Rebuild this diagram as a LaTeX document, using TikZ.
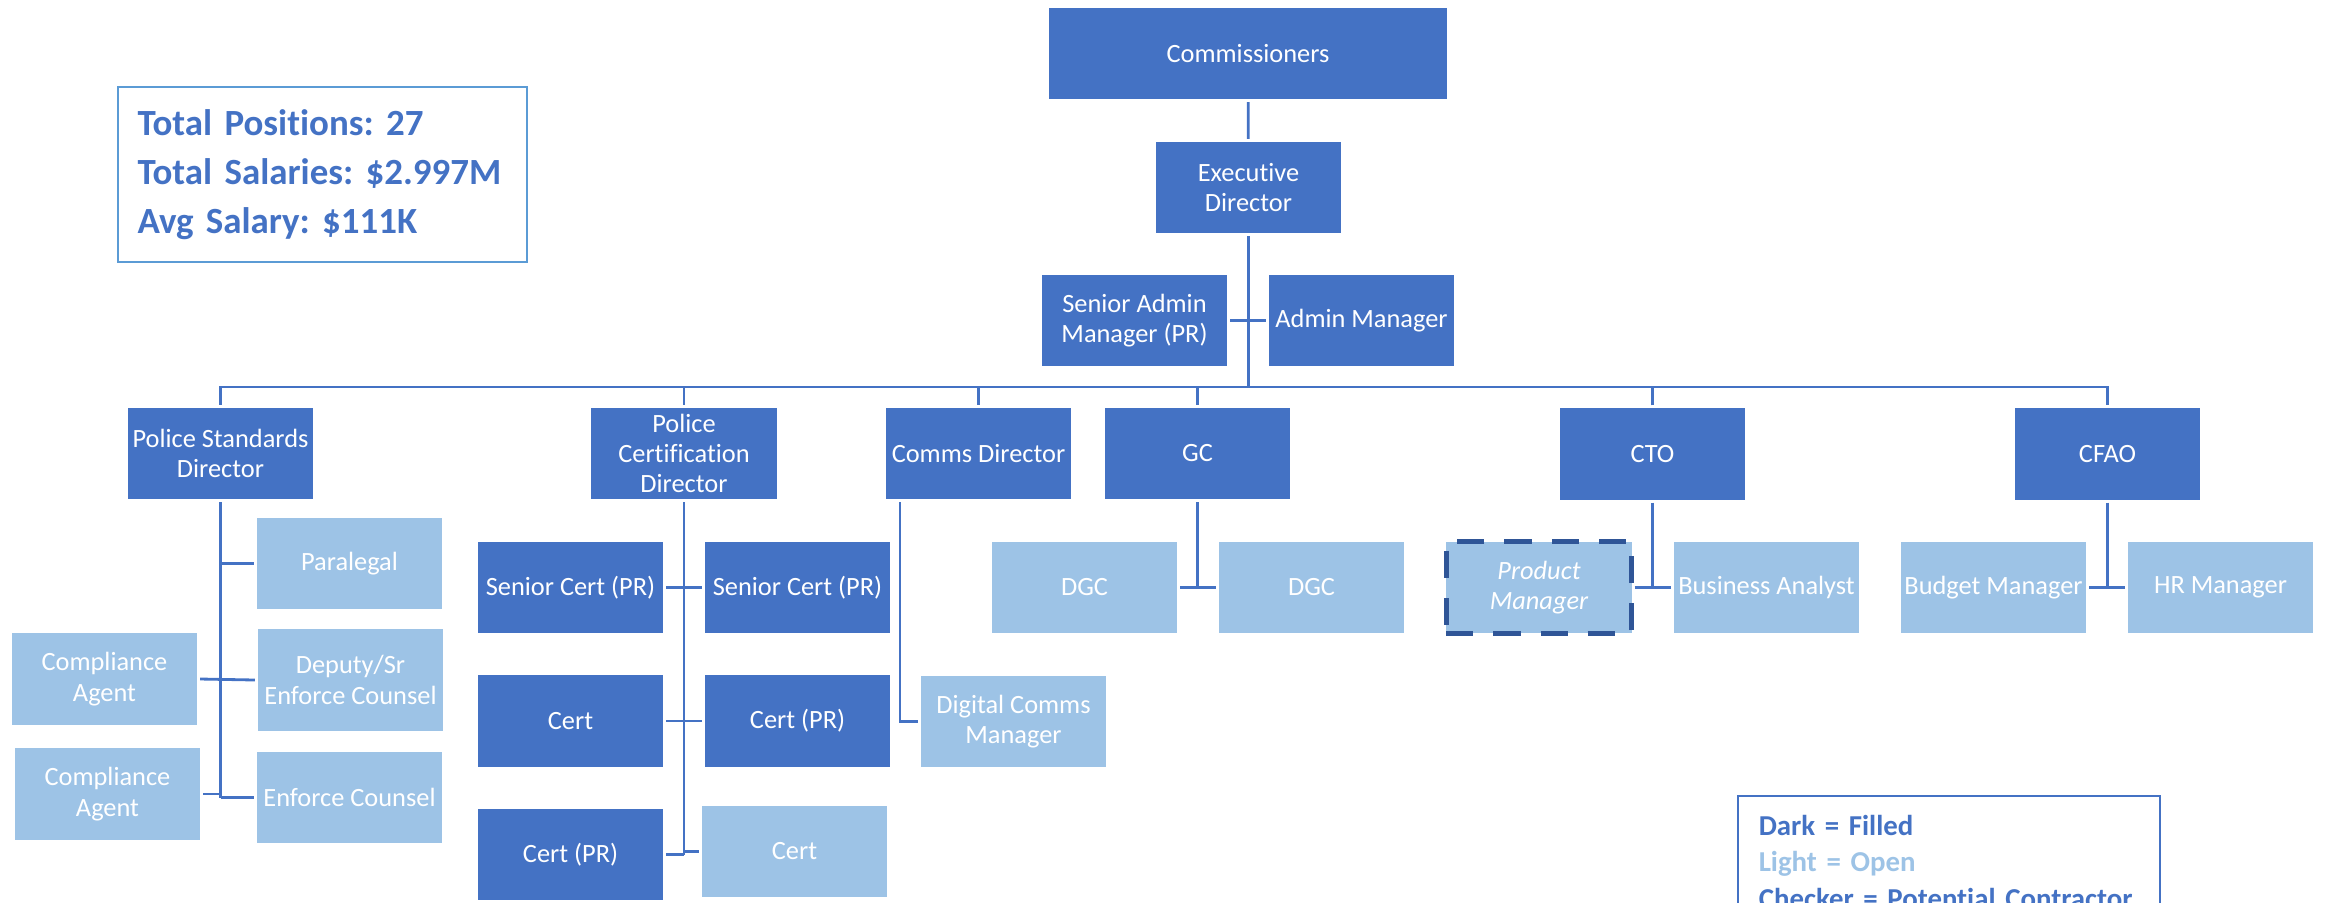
\documentclass[tikz,border=0pt]{standalone}
\usepackage{fontspec}
\setmainfont{Carlito}[Ligatures=NoCommon]
\usepackage{tikz}
\usepackage{xcolor}
\frenchspacing
\definecolor{ColDark}{RGB}{68,114,196}
\definecolor{ColLight}{RGB}{157,195,230}
\definecolor{ColDash}{RGB}{47,85,151}
\definecolor{ColInfo}{RGB}{91,155,213}
\tikzstyle{OrgBox}=[rectangle,inner sep=0pt,minimum width=1.85cm,minimum height=.91cm,
outer sep=.03cm,align=center,text=white,font=\fontsize{7.5}{8.6}\selectfont]
\tikzstyle{DarkBox}=[OrgBox,fill=ColDark]
\tikzstyle{LightBox}=[OrgBox,fill=ColLight]
\tikzstyle{CheckerBox}=[LightBox,draw=ColDash,line width=.05cm,dash pattern=on .27cm off .2cm,
font=\fontsize{7.5}{8.6}\selectfont\itshape]
\tikzstyle{EdgeOrg}=[ColDark,line width=.8pt]
\tikzstyle{NoteBox}=[rectangle,anchor=north west,align=left,text=ColDark]

\begin{document}
\begin{tikzpicture}[x=.01cm,y=-.01cm]
        \useasboundingbox(0,0)rectangle(2330,902);
        % top of the chart
        \node[DarkBox,minimum width=3.98cm](comm)at(1248,53.5){Commissioners};
        \node[DarkBox](exec)at(1248.5,187.5){Executive\\Director};
        \node[DarkBox](sadm)at(1134.5,320.5){Senior Admin\\Manager (PR)};
        \node[DarkBox](adm)at(1361.5,320.5){Admin Manager};
        \coordinate(bus)at(1248.5,387);
        % directors
        \node[DarkBox](psd)at(220.5,453.5){Police Standards\\Director};
        \node[DarkBox](pcd)at(684,453.5){Police\\Certification\\Director};
        \node[DarkBox](cdir)at(978.5,453.5){Comms Director};
        \node[DarkBox](gc)at(1197.5,453.5){GC};
        \node[DarkBox](cto)at(1652.5,454){CTO};
        \node[DarkBox](cfao)at(2107.5,454){CFAO};
        % staff
        \node[LightBox](para)at(349.5,563.5){Paralegal};
        \node[LightBox,minimum height=1.02cm](dep)at(350.5,680){Deputy/Sr\\Enforce Counsel};
        \node[LightBox](ca1)at(104.5,679){Compliance\\Agent};
        \node[LightBox](ca2)at(107.5,794){Compliance\\Agent};
        \node[LightBox](enf)at(349.5,797.5){Enforce Counsel};
        \node[DarkBox](sc1)at(570.5,587.5){Senior Cert (PR)};
        \node[DarkBox](sc2)at(797.5,587.5){Senior Cert (PR)};
        \node[DarkBox](c1)at(570.5,721){Cert};
        \node[DarkBox](cpr2)at(797.5,721){Cert (PR)};
        \node[DarkBox](cpr3)at(570.5,854.5){Cert (PR)};
        \node[LightBox](c4)at(794.5,851.5){Cert};
        \node[LightBox](dcm)at(1013.5,721.5){Digital Comms\\Manager};
        \node[LightBox](dgc1)at(1084.5,587.5){DGC};
        \node[LightBox](dgc2)at(1311.5,587.5){DGC};
        \node[CheckerBox](pm)at(1539,587.5){Product\\Manager};
        \node[LightBox](ba)at(1766.5,587.5){Business Analyst};
        \node[LightBox](bud)at(1993.5,587.5){Budget Manager};
        \node[LightBox](hr)at(2220.5,587.5){HR Manager};
        % connectors
        \draw[EdgeOrg](comm)--(exec);
        \draw[EdgeOrg](exec.south)--(bus);
        \draw[EdgeOrg](sadm.east)--(adm.west);
        \draw[EdgeOrg](psd.north)|-(bus)-|(cfao.north);
        \foreach \n in {pcd,cdir,gc,cto}
            \draw[EdgeOrg](\n.north)--(\n.north|-bus);
        \draw[EdgeOrg](psd.south)--(psd.south|-enf.west);
        \draw[EdgeOrg](para.west)--(para.west-|psd.south);
        \draw[EdgeOrg](ca1.east)--(dep.west);
        \draw[EdgeOrg](ca2.east)--(ca2.east-|psd.south);
        \draw[EdgeOrg](enf.west)--(enf.west-|psd.south);
        \draw[EdgeOrg](pcd.south)--(pcd.south|-cpr3.east);
        \draw[EdgeOrg](sc1.east)--(sc2.west);
        \draw[EdgeOrg](c1.east)--(cpr2.west);
        \draw[EdgeOrg](cpr3.east)--(cpr3.east-|pcd.south);
        \draw[EdgeOrg](c4.west)--(c4.west-|pcd.south);
        \draw[EdgeOrg]([xshift=.17cm]cdir.south west)|-(dcm.west);
        \draw[EdgeOrg](gc.south)--(gc.south|-dgc1.east);
        \draw[EdgeOrg](dgc1.east)--(dgc2.west);
        \draw[EdgeOrg](cto.south)--(cto.south|-pm.east);
        \draw[EdgeOrg](pm.east)--(ba.west);
        \draw[EdgeOrg](cfao.south)--(cfao.south|-bud.east);
        \draw[EdgeOrg](bud.east)--(hr.west);
        % notes
        \node[NoteBox,draw=ColInfo,line width=.02cm,text width=3.7cm,inner xsep=.195cm,
            minimum height=1.75cm,font=\fontsize{10.5}{13.9}\selectfont\bfseries](info)at(117,86)
            {Total Positions: 27\\Total Salaries: \$2.997M\\Avg Salary: \$111K};
        \node[NoteBox,draw=ColDark,line width=.015cm,text width=3.8cm,inner xsep=.21cm,
            inner ysep=.19cm,font=\fontsize{8.2}{10.5}\selectfont\bfseries](legend)at(1737,795)
            {Dark = Filled\\{\color{ColLight}Light = Open}\\Checker = Potential Contractor};
    \end{tikzpicture}
\end{document}
